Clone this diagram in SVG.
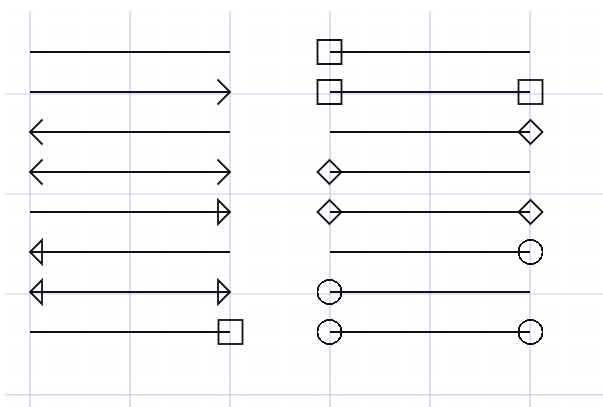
<svg xmlns="http://www.w3.org/2000/svg" width="603" height="407" viewBox="0 0 603 407">
  <style>
    .major { stroke: #c9c9fa; stroke-width: 1.2; fill: none; }
    .conn { stroke: #111111; stroke-width: 2; fill: none; }
    .mk { stroke: #111111; stroke-width: 1.8; fill: none; }
  </style>
  <defs>
    <pattern id="dots" x="0" y="4" width="10" height="10" patternUnits="userSpaceOnUse">
      <rect x="9.5" y="0" width="1.2" height="1.2" fill="#d0d0ea"/>
    </pattern>
    <marker id="arrow" viewBox="-15 -15 30 30" markerWidth="30" markerHeight="30" refX="0" refY="0" markerUnits="userSpaceOnUse" orient="auto-start-reverse">
      <path class="mk" d="M-12.5,-12.5 L0,0 L-12.5,12.5"/>
    </marker>
    <marker id="tri" viewBox="-15 -15 30 30" markerWidth="30" markerHeight="30" refX="0" refY="0" markerUnits="userSpaceOnUse" orient="auto-start-reverse">
      <path class="mk" d="M-12,-12 L0,0 L-12,12 Z"/>
    </marker>
    <marker id="square" viewBox="-15 -15 30 30" markerWidth="30" markerHeight="30" refX="0" refY="0" markerUnits="userSpaceOnUse" orient="auto-start-reverse">
      <rect class="mk" x="-11.5" y="-12" width="24" height="24"/>
    </marker>
    <marker id="diamond" viewBox="-15 -15 30 30" markerWidth="30" markerHeight="30" refX="0" refY="0" markerUnits="userSpaceOnUse" orient="auto-start-reverse">
      <path class="mk" d="M0.5,-12 L12.5,0 L0.5,12 L-11.5,0 Z"/>
    </marker>
    <marker id="circle" viewBox="-15 -15 30 30" markerWidth="30" markerHeight="30" refX="0" refY="0" markerUnits="userSpaceOnUse" orient="auto-start-reverse">
      <circle class="mk" cx="0.5" cy="0" r="12" shape-rendering="crispEdges"/>
    </marker>
  </defs>
  <rect width="603" height="407" fill="#ffffff"/>
  <g id="grid">
    <rect x="5" y="11" width="598" height="396" fill="url(#dots)"/>
    <line class="major" x1="30" y1="11" x2="30" y2="407"/>
    <line class="major" x1="130" y1="11" x2="130" y2="407"/>
    <line class="major" x1="230" y1="11" x2="230" y2="407"/>
    <line class="major" x1="330" y1="11" x2="330" y2="407"/>
    <line class="major" x1="430" y1="11" x2="430" y2="407"/>
    <line class="major" x1="530" y1="11" x2="530" y2="407"/>
    <line class="major" x1="5" y1="94" x2="603" y2="94"/>
    <line class="major" x1="5" y1="194" x2="603" y2="194"/>
    <line class="major" x1="5" y1="294" x2="603" y2="294"/>
    <line class="major" x1="5" y1="394.8" x2="603" y2="394.8" stroke-width="2"/>
  </g>
  <g id="connectors">
    <line id="l1" class="conn" x1="30" y1="52" x2="230" y2="52"/>
    <line id="l2" class="conn" x1="30" y1="92" x2="230" y2="92" marker-end="url(#arrow)"/>
    <line id="l3" class="conn" x1="30" y1="132" x2="230" y2="132" marker-start="url(#arrow)"/>
    <line id="l4" class="conn" x1="30" y1="172" x2="230" y2="172" marker-start="url(#arrow)" marker-end="url(#arrow)"/>
    <line id="l5" class="conn" x1="30" y1="212" x2="230" y2="212" marker-end="url(#tri)"/>
    <line id="l6" class="conn" x1="30" y1="252" x2="230" y2="252" marker-start="url(#tri)"/>
    <line id="l7" class="conn" x1="30" y1="292" x2="230" y2="292" marker-start="url(#tri)" marker-end="url(#tri)"/>
    <line id="l8" class="conn" x1="30" y1="332" x2="230" y2="332" marker-end="url(#square)"/>
    <line id="r1" class="conn" x1="330" y1="52" x2="530" y2="52" marker-start="url(#square)"/>
    <line id="r2" class="conn" x1="330" y1="92" x2="530" y2="92" marker-start="url(#square)" marker-end="url(#square)"/>
    <line id="r3" class="conn" x1="330" y1="132" x2="530" y2="132" marker-end="url(#diamond)"/>
    <line id="r4" class="conn" x1="330" y1="172" x2="530" y2="172" marker-start="url(#diamond)"/>
    <line id="r5" class="conn" x1="330" y1="212" x2="530" y2="212" marker-start="url(#diamond)" marker-end="url(#diamond)"/>
    <line id="r6" class="conn" x1="330" y1="252" x2="530" y2="252" marker-end="url(#circle)"/>
    <line id="r7" class="conn" x1="330" y1="292" x2="530" y2="292" marker-start="url(#circle)"/>
    <line id="r8" class="conn" x1="330" y1="332" x2="530" y2="332" marker-start="url(#circle)" marker-end="url(#circle)"/>
  </g>
</svg>
